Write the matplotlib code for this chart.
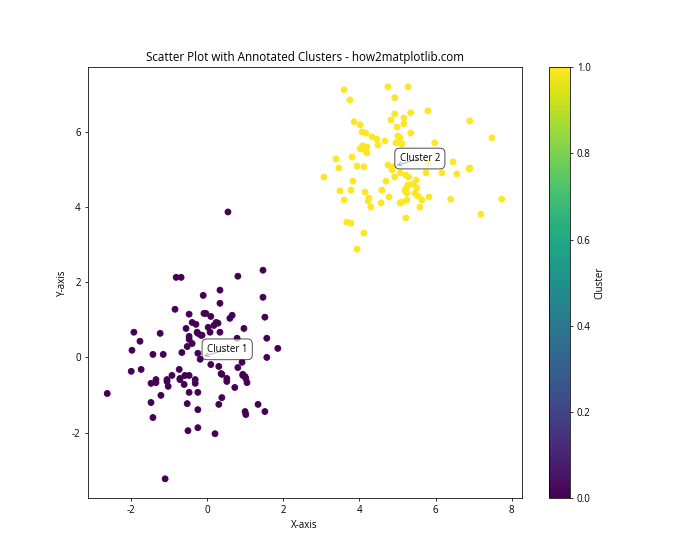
import numpy as np
import matplotlib
matplotlib.use("Agg")
import matplotlib.pyplot as plt

plt.rcParams["font.family"] = ["Open Sans", "DejaVu Sans"]
plt.rcParams["axes.unicode_minus"] = False

# Cluster 1 points (x, y)
c1_x = [-0.81, -0.68, -0.10, -0.84, -0.47, -0.08, -0.39, -0.29, -0.55, -0.26, -0.16, -0.47, -0.47,
        -1.92, -1.23, -1.76, -0.39, -0.52, -1.97, -0.66, -1.42, -1.15, -0.24, -0.18, -1.99, -1.73,
        -0.73, -0.92, -0.58, -0.47, -1.34, -1.05, -0.71, -0.71, -0.31, -0.31, -1.47, -1.34, -1.05,
        -1.02, -0.60, -2.62, -1.21, -0.47, -0.24, -1.47, -0.52, -0.24, -1.42, -0.24, -0.50, -1.10,
        1.47, 0.81, 0.34, 1.47, 0.34, -0.03, 0.10, 0.66, 0.60, 0.24, 0.29, 0.18, 1.52, 0.97, 0.03,
        0.08, 0.34, -0.24, -0.13, 0.79, 1.57, 1.86, 1.57, 0.92, 0.81, 0.10, 0.31, 0.39, 0.94, 1.02,
        0.52, 0.37, 0.94, 1.00, 0.52, 1.05, 0.73, 0.39, 0.31, 1.34, 1.00, 1.02, 1.52, 0.21, 0.55]
c1_y = [2.13, 2.13, 1.65, 1.28, 1.15, 1.17, 0.93, 0.88, 0.77, 0.67, 0.59, 0.56, 0.48,
        0.67, 0.64, 0.43, 0.37, 0.29, 0.19, 0.13, 0.08, 0.08, 0.11, -0.05, -0.37, -0.32,
        -0.32, -0.48, -0.48, -0.48, -0.59, -0.59, -0.56, -0.59, -0.59, -0.69, -0.69, -0.67, -0.64,
        -0.77, -0.72, -0.96, -1.01, -0.93, -0.93, -1.20, -1.23, -1.39, -1.60, -1.87, -1.95, -3.23,
        2.32, 2.16, 1.79, 1.60, 1.44, 1.17, 1.09, 1.12, 1.04, 0.93, 0.91, 0.85, 1.07, 0.77, 0.80,
        0.67, 0.67, 0.64, 0.59, 0.51, 0.51, 0.24, 0.00, -0.13, -0.27, -0.19, -0.24, -0.45, -0.45, -0.56,
        -0.56, -0.43, -0.48, -0.51, -0.64, -0.67, -0.80, -1.07, -1.25, -1.25, -1.44, -1.52, -1.44, -2.03, 3.87]

# Cluster 2 points (x, y)
c2_x = [3.60, 4.75, 3.75, 4.93, 5.28, 3.86, 4.02, 4.93, 4.83, 5.17, 4.99, 5.17, 4.07, 4.17, 4.33,
        4.46, 4.67, 4.49, 5.01, 5.07, 4.96, 5.12, 4.09, 4.20, 4.02, 4.15, 4.20, 3.81, 3.39, 3.46,
        3.94, 4.12, 4.75, 4.86, 5.35, 5.80, 6.90, 5.35, 7.48, 5.98, 6.46, 6.90, 5.80, 4.86, 3.07,
        3.83, 4.70, 4.93, 5.07, 5.22, 3.49, 3.78, 4.15, 4.59, 5.20, 5.25, 5.25, 4.25, 4.23, 4.30,
        4.78, 4.57, 3.60, 5.07, 5.25, 5.22, 3.67, 3.78, 4.12, 3.94, 5.30, 5.75, 6.17, 6.56, 6.88,
        5.49, 5.28, 5.41, 5.51, 5.20, 5.46, 5.54, 5.64, 5.83, 6.40, 7.74, 5.12, 5.59, 7.19]
c2_y = [7.12, 7.20, 6.85, 6.91, 7.20, 6.27, 6.19, 6.48, 6.32, 6.37, 6.13, 6.21, 6.00, 5.97, 5.87,
        5.81, 5.76, 5.65, 5.89, 5.84, 5.71, 5.68, 5.63, 5.60, 5.55, 5.52, 5.44, 5.33, 5.28, 5.04,
        5.09, 5.07, 5.12, 5.07, 6.51, 6.56, 6.29, 5.97, 5.84, 5.71, 5.20, 5.04, 5.17, 4.99, 4.80,
        4.69, 4.69, 4.80, 4.91, 4.85, 4.43, 4.45, 4.40, 4.45, 4.45, 4.53, 4.37, 4.24, 4.16, 4.00,
        4.27, 4.11, 4.19, 4.11, 4.19, 3.71, 3.60, 3.57, 3.31, 2.88, 4.80, 4.91, 4.91, 4.88, 5.01,
        4.72, 4.59, 4.61, 4.51, 4.43, 4.37, 4.29, 4.19, 4.27, 4.21, 4.21, 4.13, 4.00, 3.81]

cluster_names = ["Cluster 1", "Cluster 2"]

x = np.array(c1_x + c2_x)
y = np.array(c1_y + c2_y)
labels = np.array([0] * len(c1_x) + [1] * len(c2_x))

fig, ax = plt.subplots(figsize=(10, 8), dpi=70)
sc = ax.scatter(x, y, c=labels, cmap="viridis")
cbar = fig.colorbar(sc, ax=ax)
cbar.set_label("Cluster")

for i, name in enumerate(cluster_names):
    mx = x[labels == i].mean()
    my = y[labels == i].mean()
    ax.annotate(name, xy=(mx, my), xytext=(5, 5), textcoords="offset points",
                bbox=dict(boxstyle="round,pad=0.5", fc="white", alpha=0.7),
                arrowprops=dict(arrowstyle="->", connectionstyle="arc3,rad=0"))

ax.set_title("Scatter Plot with Annotated Clusters - how2matplotlib.com")
ax.set_xlabel("X-axis")
ax.set_ylabel("Y-axis")
fig.savefig("out.png")
